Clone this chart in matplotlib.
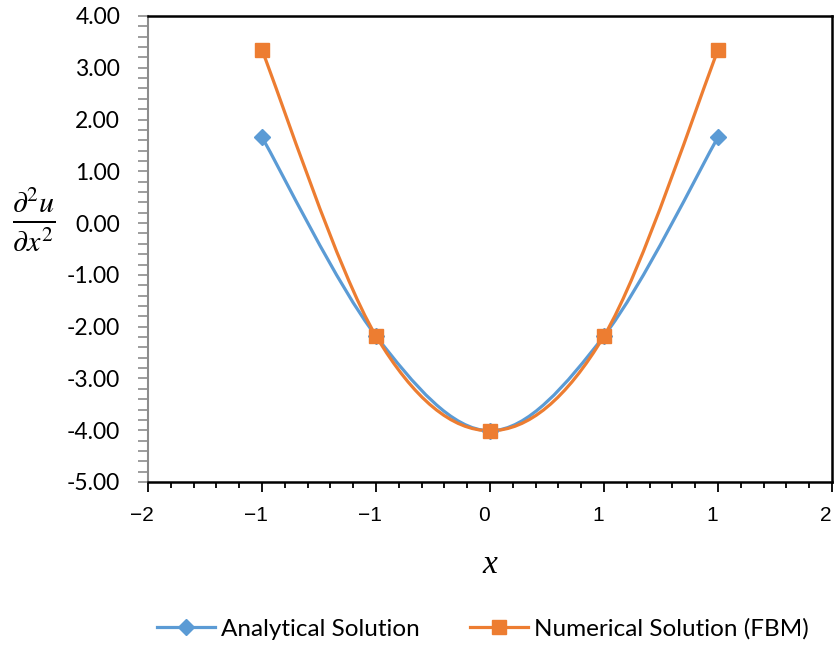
import numpy as np
import matplotlib
matplotlib.use("Agg")
import matplotlib.pyplot as plt
from matplotlib.path import Path
from matplotlib.patches import PathPatch
from matplotlib.lines import Line2D
from matplotlib.transforms import ScaledTranslation
from matplotlib.ticker import MultipleLocator, FixedLocator, FixedFormatter, FormatStrFormatter

# data
x_vals = [-4/3, -2/3, 0.0, 2/3, 4/3]
analytical = [1.66, -2.18, -4.01, -2.18, 1.66]
numerical = [3.34, -2.18, -4.01, -2.18, 3.34]
x_ticks = [-2, -4/3, -2/3, 0, 2/3, 4/3, 2]
x_ticklabels = ["\u22122", "\u22121", "\u22121", "0", "1", "1", "2"]

blue = "#5B9BD5"
orange = "#ED7D31"

plt.rcParams["mathtext.fontset"] = "stix"


def smooth_path(xs, ys, k=1/6):
    # Excel-style smoothed line: cubic Bezier between points
    pts = np.column_stack([xs, ys])
    n = len(pts)
    verts = [pts[0]]
    codes = [Path.MOVETO]
    for i in range(n - 1):
        p0 = pts[i - 1] if i > 0 else pts[i]
        p1 = pts[i]
        p2 = pts[i + 1]
        p3 = pts[i + 2] if i + 2 < n else pts[i + 1]
        c1 = p1 + (p2 - p0) * k
        c2 = p2 - (p3 - p1) * k
        verts += [c1, c2, p2]
        codes += [Path.CURVE4] * 3
    return Path(verts, codes)


fig = plt.figure(figsize=(8.34, 6.46), dpi=100)
ax = fig.add_axes([148/834, 1 - 482/646, (832 - 148)/834, (482 - 16)/646])

for ys, col in [(analytical, blue), (numerical, orange)]:
    ax.add_patch(PathPatch(smooth_path(x_vals, ys), fill=False, edgecolor=col,
                           lw=2.3, capstyle="round", joinstyle="round"))

ax.plot(x_vals, analytical, ls="none", marker="D", ms=8, color=blue)
ax.plot(x_vals, numerical, ls="none", marker="s", ms=10.5, color=orange)

ax.set_xlim(-2, 2)
ax.set_ylim(-5, 4)

ax.xaxis.set_major_locator(FixedLocator(x_ticks))
ax.xaxis.set_major_formatter(FixedFormatter(x_ticklabels))
ax.xaxis.set_minor_locator(MultipleLocator(2/15))
ax.yaxis.set_major_locator(MultipleLocator(1))
ax.yaxis.set_minor_locator(MultipleLocator(0.2))
ax.yaxis.set_major_formatter(FormatStrFormatter("%.2f"))

ax.tick_params(axis="x", which="major", length=7, width=1.3, color="black",
               labelsize=15, pad=10)
ax.tick_params(axis="x", which="minor", length=4.5, width=1.3, color="black")
ax.tick_params(axis="y", which="both", length=7, width=1.2, color="#8c8c8c",
               labelsize=16.5, pad=13)
shift = ScaledTranslation(-6/100, 0, fig.dpi_scale_trans)
for lab in ax.get_xticklabels():
    lab.set_fontfamily("Liberation Sans")
    lab.set_transform(lab.get_transform() + shift)
for lab in ax.get_yticklabels():
    lab.set_fontfamily("Lato")

for side in ["top", "right", "bottom"]:
    ax.spines[side].set_color("black")
    ax.spines[side].set_linewidth(1.8)
ax.spines["left"].set_color("#8c8c8c")
ax.spines["left"].set_linewidth(1.5)

ax.set_xlabel("x", fontfamily="Liberation Serif", style="italic", fontsize=24, labelpad=18)
fig.text(34/834, 1 - 220/646, r"$\frac{\partial^2 u}{\partial x^2}$",
         fontsize=31, ha="center", va="center")

handles = [
    Line2D([], [], color=blue, lw=2.3, marker="D", ms=8),
    Line2D([], [], color=orange, lw=2.3, marker="s", ms=10.5),
]
leg = ax.legend(handles, ["Analytical Solution", "Numerical Solution (FBM)"],
                loc="center", bbox_to_anchor=(0.49, -0.315), ncol=2, frameon=False,
                handlelength=2.4, handletextpad=0.25, columnspacing=2.05,
                prop={"family": "Lato", "size": 17.5})

fig.savefig("out.png", dpi=100)
